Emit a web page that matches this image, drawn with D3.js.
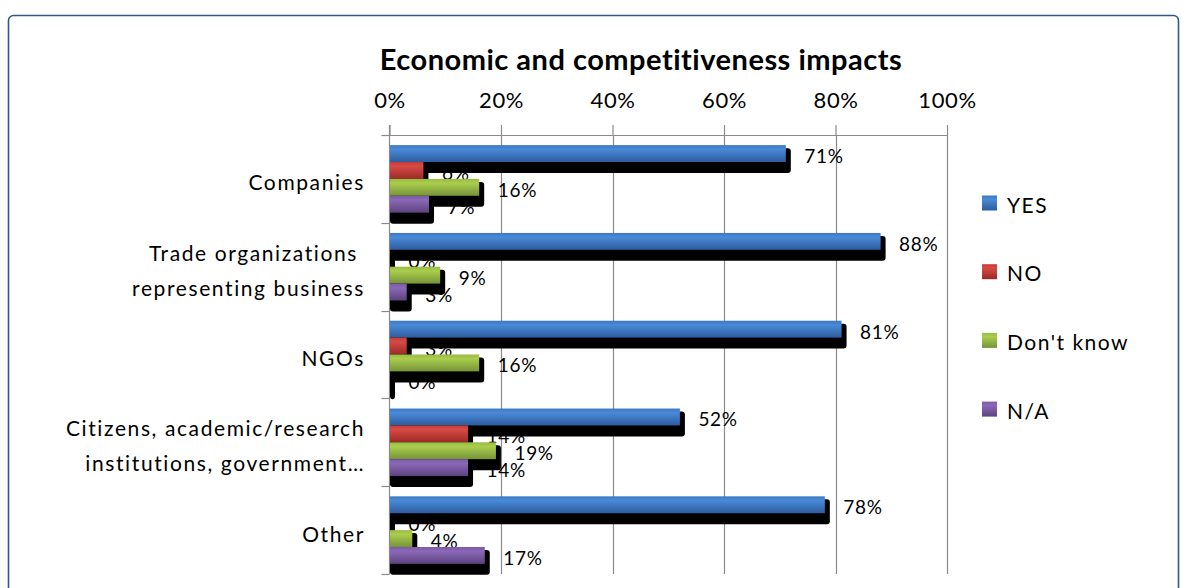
<!DOCTYPE html>
<html>
<head>
<meta charset="utf-8">
<script src="https://cdn.jsdelivr.net/npm/d3@7"></script>
<style>
  html, body { margin: 0; padding: 0; background: #ffffff; }
  svg { display: block; font-family: Lato, "Open Sans", sans-serif; }
</style>
</head>
<body>
<svg id="chart" width="1189" height="588"></svg>
<script>
// Survey answers per respondent group (percent)
const categories = [
  "Companies",
  "Trade organizations representing business",
  "NGOs",
  "Citizens, academic/research institutions, government…",
  "Other"
];
const categoryLines = [
  ["Companies"],
  ["Trade organizations ", "representing business"],
  ["NGOs"],
  ["Citizens, academic/research", "institutions, government…"],
  ["Other"]
];
const seriesNames = ["YES", "NO", "Don't know", "N/A"];
const yesValues      = [71, 88, 81, 52, 78];
const noValues       = [6, 0, 3, 14, 0];
const dontKnowValues = [16, 9, 16, 19, 4];
const naValues       = [7, 3, 0, 14, 17];
const tickValues = [0, 20, 40, 60, 80, 100];
const chartTitle = "Economic and competitiveness impacts";

const seriesValues = [yesValues, noValues, dontKnowValues, naValues];
const palette = [
  { top: "#4a8ad6", mid: "#3c78c4", bottom: "#2c5c9e" },
  { top: "#d64a45", mid: "#c43c38", bottom: "#9c2a27" },
  { top: "#aacd4c", mid: "#98bb44", bottom: "#76943a" },
  { top: "#8c68b8", mid: "#7a5aa4", bottom: "#5c437f" }
];

const svg = d3.select("#chart");
const defs = svg.append("defs");
palette.forEach((c, i) => {
  const g = defs.append("linearGradient")
    .attr("id", "grad" + i).attr("x1", 0).attr("y1", 0).attr("x2", 0).attr("y2", 1);
  g.append("stop").attr("offset", "0%").attr("stop-color", c.mid);
  g.append("stop").attr("offset", "25%").attr("stop-color", c.top);
  g.append("stop").attr("offset", "100%").attr("stop-color", c.bottom);
});

// Outer frame
svg.append("rect")
  .attr("x", 8.5).attr("y", 15.5)
  .attr("width", 1170).attr("height", 620)
  .attr("rx", 5)
  .attr("fill", "#ffffff")
  .attr("stroke", "#30598a").attr("stroke-width", 1.6);

// Title
svg.append("text")
  .attr("x", 641).attr("y", 70)
  .attr("text-anchor", "middle")
  .attr("font-weight", "bold")
  .attr("font-size", 29)
  .attr("letter-spacing", 0.5)
  .attr("fill", "#000")
  .text(chartTitle);

const plot = { left: 389.5, right: 947, top: 135, bottom: 574 };

const x = d3.scaleLinear().domain([0, 100]).range([plot.left, plot.right]);
const y0 = d3.scaleBand().domain(categories).range([plot.top, plot.bottom]).paddingInner(0).paddingOuter(0);
const y1 = d3.scaleBand().domain(seriesNames).range([0, y0.bandwidth()]).paddingInner(0).paddingOuter(0.6);

const gridColor = "#8a8a8a";

// Vertical gridlines
svg.append("g")
  .selectAll("line")
  .data(tickValues.filter(d => d > 0))
  .join("line")
  .attr("x1", d => Math.round(x(d)) + 0.5).attr("x2", d => Math.round(x(d)) + 0.5)
  .attr("y1", plot.top).attr("y2", plot.bottom)
  .attr("stroke", gridColor).attr("stroke-width", 1.2);

// Top axis with percentage labels
const topAxis = svg.append("g")
  .attr("transform", `translate(0,${plot.top})`)
  .call(d3.axisTop(x)
    .tickValues(tickValues)
    .tickFormat(d => d + "%")
    .tickSize(10)
    .tickSizeOuter(0)
    .tickPadding(17));
topAxis.select(".domain").attr("stroke", gridColor).attr("stroke-width", 1.2);
topAxis.selectAll(".tick line").attr("stroke", gridColor).attr("stroke-width", 1.2);
topAxis.selectAll(".tick text")
  .attr("font-size", 22)
  .attr("font-family", "Lato, sans-serif")
  .attr("letter-spacing", 0.6)
  .attr("fill", "#000");

// Left category axis: line with ticks at band boundaries
const leftAxis = svg.append("g");
leftAxis.append("line")
  .attr("x1", plot.left).attr("x2", plot.left)
  .attr("y1", plot.top - 10).attr("y2", plot.bottom)
  .attr("stroke", gridColor).attr("stroke-width", 1.2);
const boundaries = categories.map(c => y0(c)).concat([plot.bottom]);
leftAxis.selectAll("line.btick")
  .data(boundaries)
  .join("line")
  .attr("class", "btick")
  .attr("x1", plot.left - 8).attr("x2", plot.left)
  .attr("y1", d => Math.round(d) + 0.5).attr("y2", d => Math.round(d) + 0.5)
  .attr("stroke", gridColor).attr("stroke-width", 1.2);

// Category labels
const catLabels = svg.append("g");
categories.forEach((c, i) => {
  const lines = categoryLines[i];
  const lh = 35;
  const cy = y0(c) + y0.bandwidth() / 2 + 3;
  const t = catLabels.append("text")
    .attr("text-anchor", "end")
    .attr("font-size", 21)
    .attr("letter-spacing", 1.6)
    .attr("fill", "#000")
    .style("white-space", "pre");
  lines.forEach((ln, j) => {
    t.append("tspan")
      .attr("x", 365)
      .attr("y", cy + (j - (lines.length - 1) / 2) * lh)
      .attr("dominant-baseline", "central")
      .text(ln);
  });
});

// Flatten values to one record per bar
const bars = [];
seriesNames.forEach((s, si) => {
  categories.forEach((c, ci) => {
    bars.push({ series: s, si, category: c, value: seriesValues[si][ci] });
  });
});

// Value labels (drawn beneath the bars and their shadows)
svg.append("g")
  .selectAll("text")
  .data(bars)
  .join("text")
  .attr("x", d => x(d.value) + 19)
  .attr("y", d => y0(d.category) + y1(d.series) + y1.bandwidth() / 2 + 2)
  .attr("dominant-baseline", "central")
  .attr("font-size", 19)
  .attr("letter-spacing", 0.7)
  .attr("fill", "#000")
  .text(d => d.value + "%");

// Bars with drop shadows, series by series
const barLayer = svg.append("g");
seriesNames.forEach((s, si) => {
  const data = bars.filter(d => d.si === si);
  barLayer.append("g")
    .selectAll("rect")
    .data(data)
    .join("rect")
    .attr("x", x(0) + 0.5)
    .attr("y", d => y0(d.category) + y1(s) + 3)
    .attr("width", d => Math.max(0, x(d.value) - x(0)) + 5)
    .attr("height", y1.bandwidth() + 8)
    .attr("rx", 3)
    .attr("fill", "#000");
  barLayer.append("g")
    .selectAll("rect")
    .data(data)
    .join("rect")
    .attr("x", x(0) + 0.5)
    .attr("y", d => y0(d.category) + y1(s))
    .attr("width", d => Math.max(0, x(d.value) - x(0)))
    .attr("height", y1.bandwidth())
    .attr("fill", `url(#grad${si})`);
});

// Legend
const legend = svg.append("g");
seriesNames.forEach((s, i) => {
  const ly = 203 + i * 68.7;
  legend.append("rect")
    .attr("x", 982).attr("y", ly - 7.5)
    .attr("width", 15).attr("height", 15)
    .attr("fill", `url(#grad${i})`);
  legend.append("text")
    .attr("x", 1007).attr("y", ly + 1)
    .attr("dominant-baseline", "central")
    .attr("font-size", 21)
    .attr("letter-spacing", 1.5)
    .attr("fill", "#000")
    .text(s);
});
</script>
</body>
</html>
